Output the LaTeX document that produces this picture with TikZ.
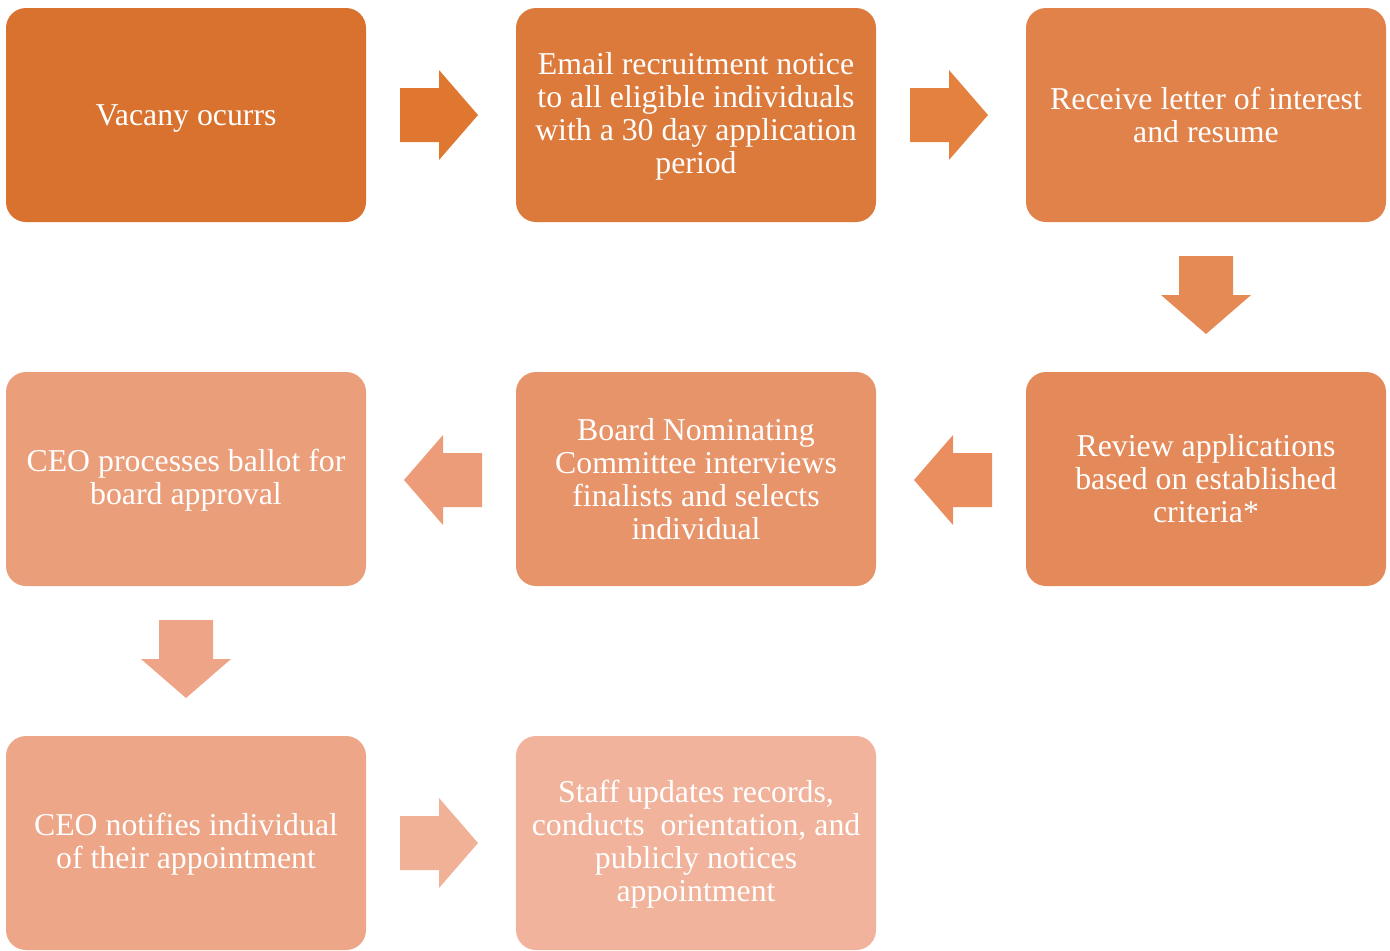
\documentclass[tikz,border=0pt]{standalone}
\usepackage{fontspec}
\setmainfont{Liberation Serif}
\usetikzlibrary{calc}
\definecolor{B1}{HTML}{D8722E}
\definecolor{B2}{HTML}{DC7A3C}
\definecolor{B3}{HTML}{E0824A}
\definecolor{B4}{HTML}{E48A5A}
\definecolor{B5}{HTML}{E8946B}
\definecolor{B6}{HTML}{EB9E7A}
\definecolor{B7}{HTML}{EDA687}
\definecolor{B8}{HTML}{F1B39B}
\definecolor{A1}{HTML}{E07730}
\definecolor{A2}{HTML}{E5813F}
\definecolor{A3}{HTML}{E68A55}
\definecolor{A4}{HTML}{EA8E60}
\definecolor{A5}{HTML}{EC9C78}
\definecolor{A6}{HTML}{EEA587}
\definecolor{A7}{HTML}{F1B196}
\tikzset{
  stepbox/.style={draw=none, rounded corners=10pt, minimum width=180pt, minimum height=107pt,
    align=center, text=white, inner sep=0pt,
    font=\fontsize{15.9}{16.5}\selectfont},
  steptext/.style={align=center, text=white, inner sep=0pt,
    font=\fontsize{15.9}{16.5}\selectfont},
  blockarrow/.pic={\fill[#1] (-39,-27) -- (0,-27) -- (0,-45) -- (39,0) -- (0,45) -- (0,27) -- (-39,27) -- cycle;}
}
\begin{document}
\begin{tikzpicture}[x=0.5pt,y=-0.5pt]
\useasboundingbox (0,0) rectangle (1390,950);
\node[stepbox, fill=B1] (vac) at (186,115) {};
\node[steptext] (vact) at ([yshift=-1.8pt]vac.center) {Vacany ocurrs};
\node[stepbox, fill=B2] (email) at (696,115) {};
\node[steptext] (emailt) at ([yshift=-0.8pt]email.center) {Email recruitment notice\\to all eligible individuals\\with a 30 day application\\period};
\node[stepbox, fill=B3] (recv) at (1206,115) {Receive letter of interest\\and resume};
\node[stepbox, fill=B4] (rev) at (1206,479) {Review applications\\based on established\\criteria*};
\node[stepbox, fill=B5] (board) at (696,479) {Board Nominating\\Committee interviews\\finalists and selects\\individual};
\node[stepbox, fill=B6] (proc) at (186,479) {};
\node[steptext] (proct) at ([yshift=-0.8pt]proc.center) {CEO processes ballot for\\board approval};
\node[stepbox, fill=B7] (notif) at (186,843) {};
\node[steptext] (notift) at ([yshift=-0.8pt]notif.center) {CEO notifies individual\\of their appointment};
\node[stepbox, fill=B8] (staff) at (696,843) {};
\node[steptext] (stafft) at ([yshift=-0.8pt]staff.center) {Staff updates records,\\conducts\ \ orientation, and\\publicly notices\\appointment};

\coordinate (m1) at ($(vac.east)!0.5!(email.west)+(-2,0)$);
\coordinate (m2) at ($(email.east)!0.5!(recv.west)+(-2,0)$);
\coordinate (m3) at ($(recv.south)!0.5!(rev.north)+(0,-2)$);
\coordinate (m4) at ($(rev.west)!0.5!(board.east)+(2,1)$);
\coordinate (m5) at ($(board.west)!0.5!(proc.east)+(2,1)$);
\coordinate (m6) at ($(proc.south)!0.5!(notif.north)+(0,-2)$);
\coordinate (m7) at ($(notif.east)!0.5!(staff.west)+(-2,0)$);
\pic at (m1) {blockarrow=A1};
\pic at (m2) {blockarrow=A2};
\pic[rotate=-90] at (m3) {blockarrow=A3};
\pic[rotate=180] at (m4) {blockarrow=A4};
\pic[rotate=180] at (m5) {blockarrow=A5};
\pic[rotate=-90] at (m6) {blockarrow=A6};
\pic at (m7) {blockarrow=A7};
\end{tikzpicture}
\end{document}
